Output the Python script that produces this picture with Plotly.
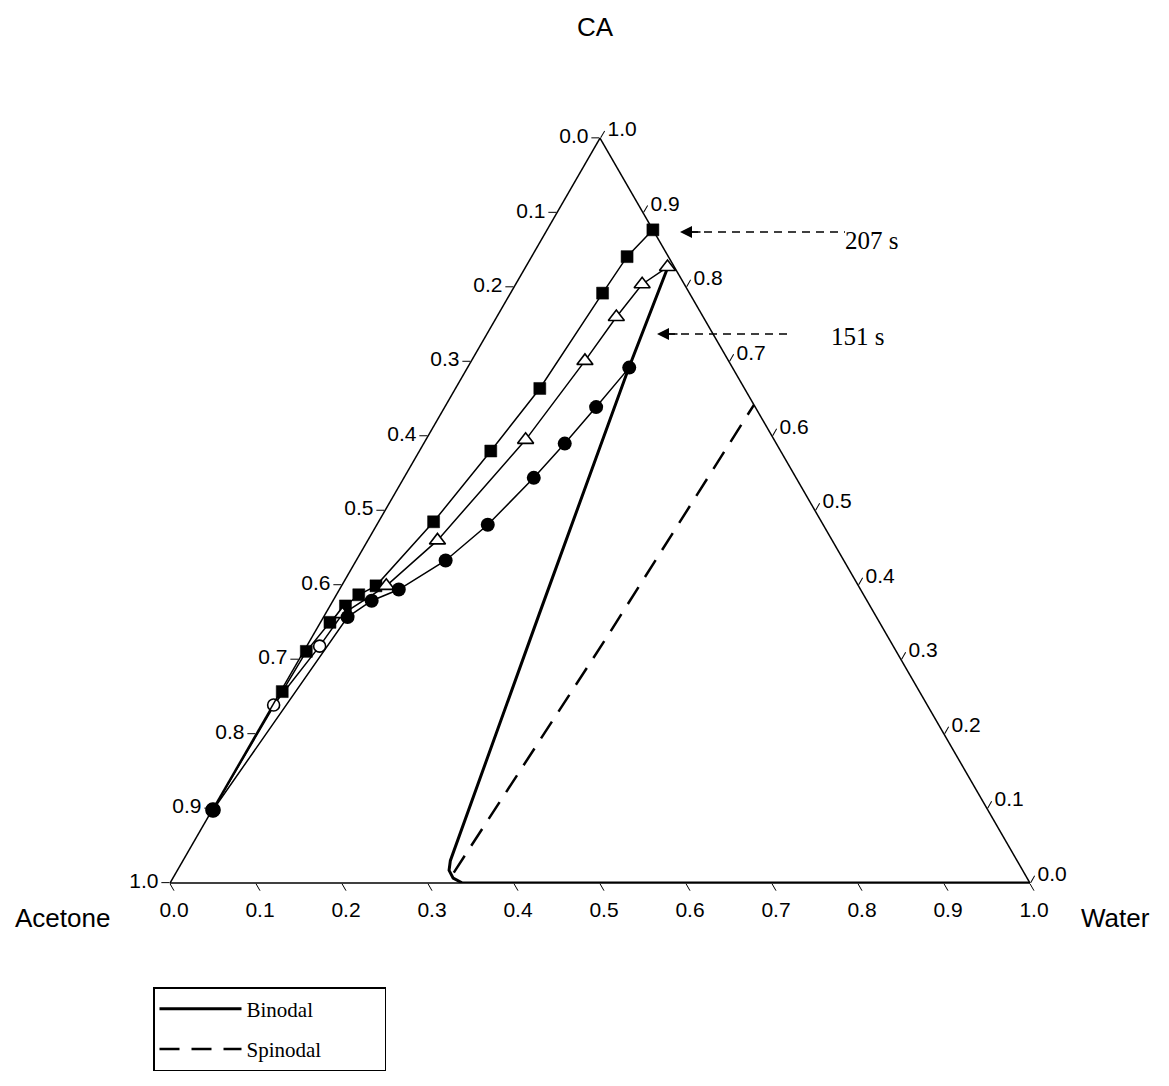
import plotly.graph_objects as go

W, H = 1169, 1086

# ---- data (fractions): CA and Water given, Acetone = 1 - CA - Water ----
sq_ca    = [0.098, 0.257, 0.311, 0.350, 0.372, 0.387, 0.399, 0.485, 0.580, 0.664, 0.792, 0.841, 0.877]
sq_water = [0.001, 0.002, 0.003, 0.011, 0.018, 0.026, 0.040, 0.064, 0.083, 0.098, 0.107, 0.111, 0.123]

tri_ca    = [0.098, 0.239, 0.318, 0.361, 0.399, 0.460, 0.595, 0.701, 0.760, 0.804, 0.827]
tri_water = [0.001, 0.001, 0.015, 0.020, 0.052, 0.081, 0.116, 0.132, 0.139, 0.147, 0.165]

cir_ca    = [0.098, 0.357, 0.379, 0.394, 0.433, 0.481, 0.544, 0.590, 0.639, 0.692]
cir_water = [0.001, 0.028, 0.045, 0.069, 0.104, 0.129, 0.151, 0.164, 0.176, 0.188]

binodal_ca    = [0.0, 0.0, 0.0065, 0.017, 0.030, 0.360, 0.690, 0.830]
binodal_water = [1.0, 0.340, 0.326, 0.316, 0.311, 0.249, 0.188, 0.165]

spinodal_ca    = [0.014, 0.109, 0.331, 0.642]
spinodal_water = [0.323, 0.329, 0.343, 0.358]

tick_vals = [0.0, 0.1, 0.2, 0.3, 0.4, 0.5, 0.6, 0.7, 0.8, 0.9, 1.0]


def acetone(ca, wa):
    return [round(1 - x - y, 4) for x, y in zip(ca, wa)]


# page body has an 8px margin; convert target page pixels to paper fractions
OFF = 8


def px(x):
    return (x - OFF) / W


def py(y):
    return 1 - (y - OFF) / H


PAD = "\u00a0" * 11  # widen the legend box like the reference

fig = go.Figure()

fig.add_trace(go.Scatterternary(
    a=binodal_ca, b=acetone(binodal_ca, binodal_water), c=binodal_water,
    mode="lines", name="Binodal" + PAD, legendgroup="g1",
    line=dict(color="black", width=3)))

fig.add_trace(go.Scatterternary(
    a=spinodal_ca, b=acetone(spinodal_ca, spinodal_water), c=spinodal_water,
    mode="lines", name="Spinodal" + PAD, legendgroup="g2",
    line=dict(color="black", width=2.5, dash="20px,12px")))

# squares series
n = len(sq_ca)
fig.add_trace(go.Scatterternary(
    a=sq_ca, b=acetone(sq_ca, sq_water), c=sq_water,
    mode="lines+markers", showlegend=False, cliponaxis=False,
    line=dict(color="black", width=1.5),
    marker=dict(symbol=["circle"] + ["square"] * (n - 1),
                size=[14] + [12] * (n - 1), color="black", opacity=1,
                line=dict(color="black", width=0.5))))

# triangles series
n = len(tri_ca)
fig.add_trace(go.Scatterternary(
    a=tri_ca, b=acetone(tri_ca, tri_water), c=tri_water,
    mode="lines+markers", showlegend=False, cliponaxis=False,
    line=dict(color="black", width=1.5),
    marker=dict(symbol=["circle", "circle", "circle"] + ["triangle-up"] * (n - 3),
                size=[14, 12, 12] + [14] * (n - 3), opacity=1,
                color=["black"] + ["white"] * (n - 1),
                line=dict(color="black", width=1.6))))

# circles series
n = len(cir_ca)
fig.add_trace(go.Scatterternary(
    a=cir_ca, b=acetone(cir_ca, cir_water), c=cir_water,
    mode="lines+markers", showlegend=False, cliponaxis=False,
    line=dict(color="black", width=1.5),
    marker=dict(symbol="circle", size=14, color="black", opacity=1)))

tickfont = dict(family="Liberation Sans, Arial", size=21, color="black")


def axis(labels):
    return dict(
        tickmode="array", tickvals=tick_vals, ticktext=labels,
        showgrid=False, linecolor="black", linewidth=1.5,
        ticks="outside", ticklen=8, tickwidth=1.3, tickcolor="black",
        tickfont=tickfont, title=dict(text=""))


inv_labels = [f"{1 - v:.1f}" for v in tick_vals]

# triangle box in page pixels
tri_left, tri_right, tri_bottom = 170, 1030, 883
side = tri_right - tri_left
tri_top = tri_bottom - side * 3 ** 0.5 / 2

fig.update_layout(
    width=W, height=H,
    margin=dict(l=0, r=0, t=0, b=0),
    paper_bgcolor="white", plot_bgcolor="white",
    ternary=dict(
        sum=1,
        domain=dict(x=[px(tri_left), px(tri_right)], y=[py(tri_bottom), py(tri_top)]),
        bgcolor="white",
        aaxis=axis(inv_labels),
        baxis=axis(inv_labels),
        caxis=axis(inv_labels),
    ),
    showlegend=True,
    legend=dict(
        x=px(153), y=py(987), xanchor="left", yanchor="top",
        bordercolor="black", borderwidth=1.5, bgcolor="white",
        font=dict(family="Liberation Serif, Times New Roman", size=21, color="black"),
        tracegroupgap=10, itemwidth=82),
)

sans = dict(family="Liberation Sans, Arial", size=26, color="black")
serif = dict(family="Liberation Serif, Times New Roman", size=25, color="black")

annotations = [
    dict(text="CA", x=px(595), y=py(27), font=sans),
    dict(text="Acetone", x=px(62), y=py(918), font=sans),
    dict(text="Water", x=px(1115), y=py(918), font=sans),
    dict(text="207 s", x=px(871), y=py(240), font=serif),
    dict(text="151 s", x=px(857), y=py(336), font=serif),
]
for a in annotations:
    a.update(xref="paper", yref="paper", showarrow=False, xanchor="center", yanchor="middle")

# arrow heads
for tipx, tipy in [(680, 232), (657, 334)]:
    annotations.append(dict(
        x=px(tipx), y=py(tipy), xref="paper", yref="paper", text="",
        showarrow=True, ax=22, ay=0, arrowhead=2, arrowsize=1.6,
        arrowwidth=1.5, arrowcolor="black"))

fig.update_layout(annotations=annotations)

shapes = []
for x0, x1, yy in [(690, 845, 232), (667, 792, 334)]:
    shapes.append(dict(type="line", xref="paper", yref="paper",
                       x0=px(x0), x1=px(x1), y0=py(yy), y1=py(yy),
                       line=dict(color="black", width=1.5, dash="8px,6px")))
fig.update_layout(shapes=shapes)

fig.write_html("out.html")
